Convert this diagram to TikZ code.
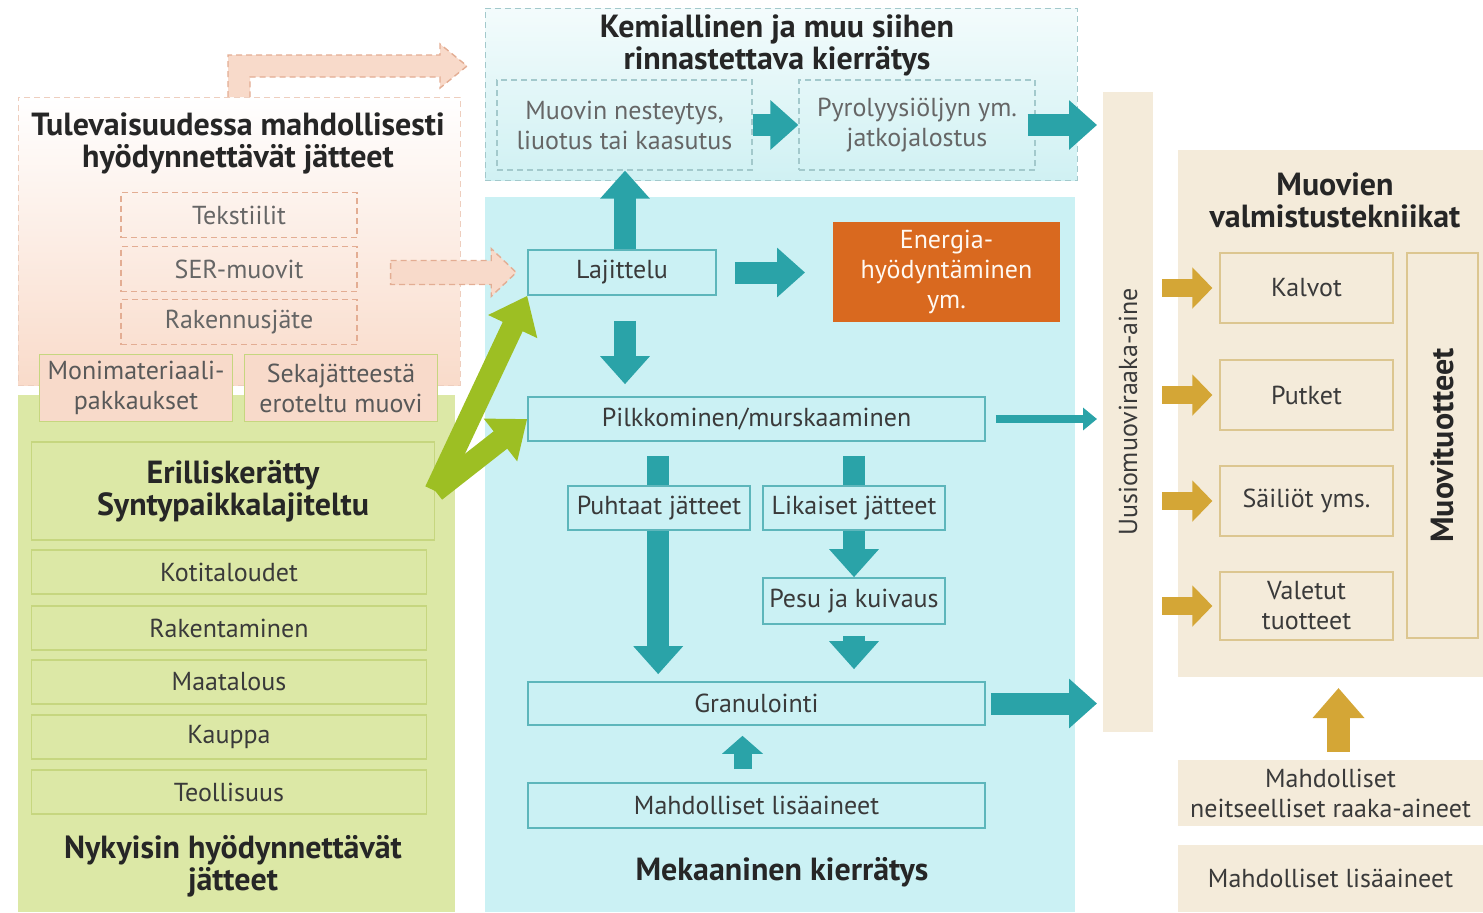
\documentclass[tikz,border=0pt]{standalone}
\usepackage{fontspec}
\setmainfont{PT Sans}
\usetikzlibrary{arrows.meta,calc,positioning}

\definecolor{tealarr}{HTML}{2AA3A8}
\definecolor{tealline}{HTML}{5DB6BB}
\definecolor{mechbg}{HTML}{CBF1F4}
\definecolor{chembg}{HTML}{D0F1F3}
\definecolor{chemline}{HTML}{A3C9CC}
\definecolor{peachbg}{HTML}{F9DBCA}
\definecolor{peachline}{HTML}{E3AD93}
\definecolor{peachbox}{HTML}{F8DACA}
\definecolor{greenbg}{HTML}{DCE8A6}
\definecolor{greenline}{HTML}{C6D67F}
\definecolor{greenarr}{HTML}{9DBF23}
\definecolor{orangebox}{HTML}{D9691F}
\definecolor{beigebg}{HTML}{F4EBDA}
\definecolor{beigeline}{HTML}{DCC690}
\definecolor{goldarr}{HTML}{D4A636}
\definecolor{txtgray}{HTML}{3A3A3A}

\tikzset{
  every node/.style={text=txtgray, font=\fontsize{13}{15}\selectfont, align=center, inner sep=0pt},
  titletext/.style={text=black!85, font=\fontsize{16}{16}\selectfont\bfseries},
  region/.style={rectangle, inner sep=0pt, outer sep=0pt},
  futbox/.style={draw=peachline, dash pattern=on 3pt off 2pt, line width=0.6pt, text=black!60,
    minimum width=118pt, minimum height=22.5pt},
  mixbox/.style={draw=greenline, fill=peachbox, line width=0.8pt, text=black!65,
    minimum width=96.5pt, minimum height=33.5pt},
  greenbox/.style={draw=greenline, line width=0.8pt, minimum width=197.5pt, minimum height=22pt},
  chembox/.style={draw=chemline, dash pattern=on 3pt off 2pt, line width=0.6pt, text=black!60,
    minimum height=45pt},
  mechbox/.style={draw=tealline, fill=mechbg, line width=0.8pt},
  beigebox/.style={draw=beigeline, line width=0.6pt, minimum width=86.5pt, minimum height=35pt},
  tealarrow/.style={draw=tealarr, line width=11pt, -{Triangle[length=14pt,width=24pt]}},
  tealthin/.style={draw=tealarr, line width=4pt, -{Triangle[length=7pt,width=11pt]}},
  tealsmall/.style={draw=tealarr, line width=9pt, -{Triangle[length=9pt,width=20pt]}},
  goldarrow/.style={draw=goldarr, line width=9pt, -{Triangle[length=10pt,width=20pt]}},
  goldup/.style={draw=goldarr, line width=11.5pt, -{Triangle[length=15pt,width=25pt]}},
  greenarrow/.style={draw=greenarr, line width=11pt, -{Triangle[length=17pt,width=26pt]}},
  peacharrow/.style={draw=peachline, fill=peachbox, dash pattern=on 3pt off 2pt, line width=0.7pt}
}

\begin{document}
\begin{tikzpicture}[x=0.5pt, y=-0.5pt]
\useasboundingbox (0,0) rectangle (1483,912);

% regions
\node[region, top color=white, bottom color=peachbg, draw=peachline!60, dash pattern=on 3pt off 2pt,
  minimum width=221pt, minimum height=144pt] (fut) at (239,241) {};
\node[region, fill=greenbg, minimum width=218.5pt, minimum height=258.5pt] (now) at (236.5,653.5) {};
\node[region, top color=chembg!25, bottom color=chembg, draw=chemline, dash pattern=on 3pt off 2pt,
  minimum width=296pt, minimum height=86pt] (chem) at (781,94) {};
\node[region, fill=mechbg, minimum width=295pt, minimum height=357.5pt] (mech) at (780,554.5) {};
\node[region, fill=beigebg, minimum width=25pt, minimum height=320pt] (uus) at (1128,412) {};
\node[region, fill=beigebg, minimum width=152.5pt, minimum height=263.5pt] (muov) at (1330.5,413.5) {};

% future wastes
\node[titletext] (futtitle) at (238,143) {Tulevaisuudessa mahdollisesti\\hyödynnettävät jätteet};
\node[futbox] (tekst) at (239,215) {Tekstiilit};
\node[futbox] (ser) at (239,269) {SER-muovit};
\node[futbox] (rak) at (239,322) {Rakennusjäte};
\node[mixbox] (moni) at (136,388) {Monimateriaali-\\pakkaukset};
\node[mixbox] (seka) at (341,388) {Sekajätteestä\\eroteltu muovi};

% current wastes
\node[greenbox, titletext, minimum width=201.5pt, minimum height=49pt] (eri) at (233,491) {Erilliskerätty\\Syntypaikkalajiteltu};
\node[greenbox] (koti) at (229,572) {Kotitaloudet};
\node[greenbox] (raken) at (229,628) {Rakentaminen};
\node[greenbox] (maat) at (229,682) {Maatalous};
\node[greenbox] (kaup) at (229,737) {Kauppa};
\node[greenbox] (teol) at (229,792) {Teollisuus};
\node[titletext] (nyk) at (233,866) {Nykyisin hyödynnettävät\\jätteet};

% chemical recycling
\node[titletext] (chemtitle) at (777,45) {Kemiallinen ja muu siihen\\rinnastettava kierrätys};
\node[chembox, minimum width=127.5pt] (muovin) at (624.5,125) {Muovin nesteytys,\\liuotus tai kaasutus};
\node[chembox, minimum width=118pt] (pyro) at (917,125) {Pyrolyysiöljyn ym.\\jatkojalostus};

% mechanical recycling
\node[mechbox, minimum width=94pt, minimum height=22.5pt] (laj) at (622,272.5) {Lajittelu};
\node[region, fill=orangebox, text=white!95!orange, minimum width=113.5pt, minimum height=50pt] (ener) at (946.5,272) {Energia-\\hyödyntäminen\\ym.};
\node[mechbox, minimum width=228.5pt, minimum height=22pt] (pilk) at (756.5,419) {Pilkkominen/murskaaminen};
\node[mechbox, minimum width=91pt, minimum height=23pt] (pesu) at (854,601) {Pesu ja kuivaus};
\node[mechbox, minimum width=228.5pt, minimum height=21.5pt] (gran) at (756.5,703.5) {Granulointi};
\node[mechbox, minimum width=228.5pt, minimum height=22.5pt] (lisa) at (756.5,805.5) {Mahdolliset lisäaineet};
\node[titletext] (mechtitle) at (782,872) {Mekaaninen kierrätys};

% arrows behind the waste boxes
\draw[tealarrow, shorten <=7pt, shorten >=3.5pt] ($(pilk.south west)+(131,0)$) -- ($(gran.north west)+(131,0)$);
\draw[tealarrow, shorten <=7pt] (pesu.north |- pilk.south) -- (pesu.north);
\node[mechbox, minimum width=91pt, minimum height=22pt] (puht) at (659,508) {Puhtaat jätteet};
\node[mechbox, minimum width=91pt, minimum height=22pt] (lika) at (854,508) {Likaiset jätteet};

% raw material and products
\node[rotate=90] (uustext) at (uus.center) {Uusiomuoviraaka-aine};
\node[titletext] (muovtitle) at (1335,200) {Muovien\\valmistustekniikat};
\node[beigebox] (kalv) at (1306.5,288) {Kalvot};
\node[beigebox] (putk) at (1306.5,395) {Putket};
\node[beigebox] (sail) at (1306.5,501) {Säiliöt yms.};
\node[beigebox, minimum height=34pt] (valet) at (1306.5,606) {Valetut\\tuotteet};
\node[beigebox, minimum width=35.5pt, minimum height=192.5pt] (tuot) at (1442.5,445.5) {};
\node[titletext, rotate=90] (tuottext) at (tuot.center) {Muovituotteet};
\node[region, fill=beigebg, minimum width=152.5pt, minimum height=33pt] (neit) at (1330.5,793) {Mahdolliset\\neitseelliset raaka-aineet};
\node[region, fill=beigebg, minimum width=152.5pt, minimum height=33.5pt] (lisa2) at (1330.5,878.5) {Mahdolliset lisäaineet};

% dashed peach arrows
\coordinate (futout) at (467,66);
\draw[peacharrow] ($(fut.north)+(-11,0)$) |- ($(futout)+(-27,-11)$) -- ($(futout)+(-27,-22)$) -- (futout)
  -- ($(futout)+(-27,22)$) -- ($(futout)+(-27,11)$) -| ($(fut.north)+(11,0)$);
\coordinate (sertip) at ($(laj.west)+(-11,0)$);
\coordinate (sertail) at ($(ser.east)+(33,0)$);
\draw[peacharrow] ($(sertail |- sertip)+(0,-12)$) -- ($(sertip)+(-25,-12)$) -- ($(sertip)+(-25,-24)$) -- (sertip)
  -- ($(sertip)+(-25,24)$) -- ($(sertip)+(-25,12)$) -- ($(sertail |- sertip)+(0,12)$) -- cycle;

% green arrows
\draw[greenarrow] (eri.east) -- (laj.south west);
\draw[greenarrow] (eri.east) -- (pilk.west);

% teal arrows
\draw[tealarrow] (muovin.east) -- (pyro.west);
\draw[tealarrow, shorten >=3pt] ($(pyro.east)+(-8,0)$) -- (pyro.east -| uus.west);
\draw[tealarrow] ($(laj.north)+(3,0)$) -- ($(laj.north |- muovin.south)+(3,0)$);
\draw[tealarrow, shorten <=9pt, shorten >=14pt] (laj.east) -- (laj.east -| ener.west);
\draw[tealarrow, shorten <=12.5pt, shorten >=6pt] ($(laj.south)+(3,0)$) -- ($(laj.south |- pilk.north)+(3,0)$);
\draw[tealthin, shorten <=5pt, shorten >=3pt] (pilk.east) -- (pilk.east -| uus.west);
\draw[tealarrow, shorten <=5.5pt, shorten >=6pt] (pesu.south) -- (pesu.south |- gran.north);
\draw[tealsmall, shorten <=6.5pt, shorten >=5pt] ($(lisa.north)+(-14,0)$) -- ($(gran.south)+(-14,0)$);
\draw[tealarrow, shorten <=2.5pt, shorten >=3pt] (gran.east) -- (gran.east -| uus.west);

% gold arrows
\foreach \b in {kalv,putk,sail,valet}
  \draw[goldarrow, shorten <=4.5pt, shorten >=3.5pt] (\b.west -| uus.east) -- (\b.west);
\draw[goldup, shorten <=4pt, shorten >=5.5pt] ($(neit.north)+(8,0)$) -- ($(neit.north |- muov.south)+(8,0)$);
\end{tikzpicture}
\end{document}
